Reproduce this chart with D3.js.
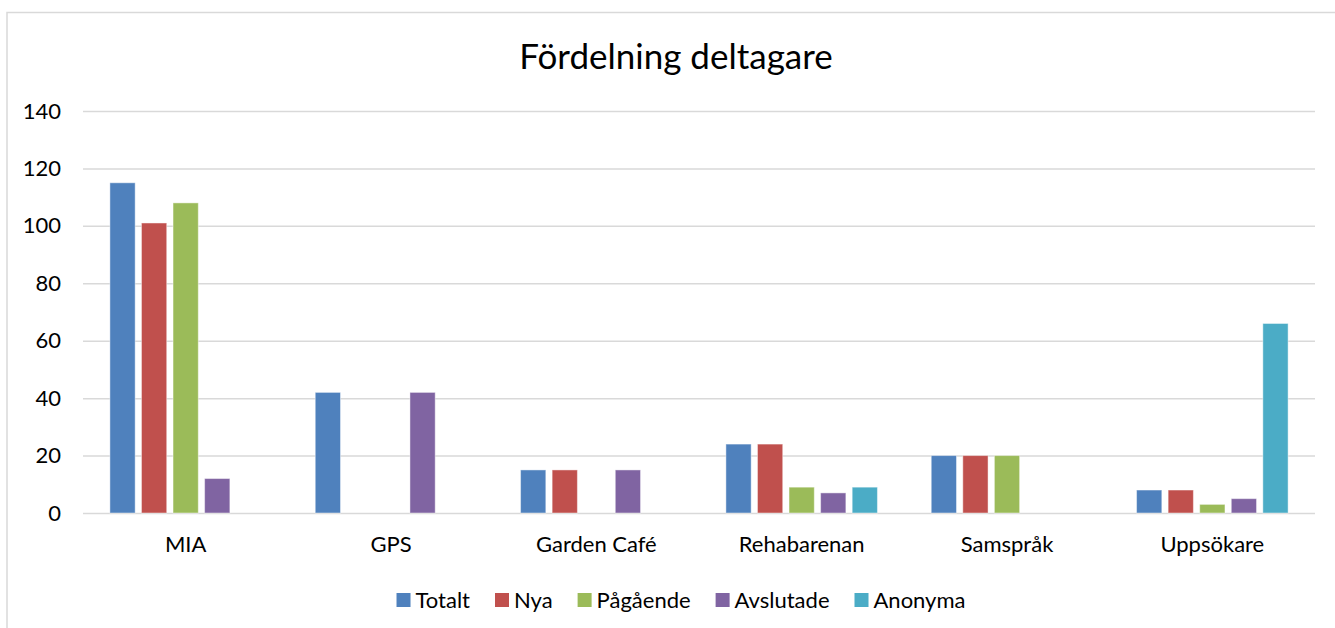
<!DOCTYPE html>
<html>
<head>
<meta charset="utf-8">
<script src="https://cdn.jsdelivr.net/npm/d3@7/dist/d3.min.js"></script>
<style>
  html, body { margin: 0; padding: 0; background: #fff; }
  svg { display: block; }
  text { font-family: Lato, "Noto Sans", sans-serif; fill: #000; }
</style>
</head>
<body>
<svg id="chart" width="1335" height="628"></svg>
<script>
var categories = ['MIA', 'GPS', 'Garden Café', 'Rehabarenan', 'Samspråk', 'Uppsökare'];
var seriesNames = ['Totalt', 'Nya', 'Pågående', 'Avslutade', 'Anonyma'];
var totalt    = [115, 42, 15, 24, 20, 8];
var nya       = [101, 0, 15, 24, 20, 8];
var pagaende  = [108, 0, 0, 9, 20, 3];
var avslutade = [12, 42, 15, 7, 0, 5];
var anonyma   = [0, 0, 0, 9, 0, 66];
var yTicks = [0, 20, 40, 60, 80, 100, 120, 140];
var colors = ['#4F81BD', '#C0504D', '#9BBB59', '#8064A2', '#4BACC6'];

var seriesValues = [totalt, nya, pagaende, avslutade, anonyma];

var svg = d3.select('#chart');
var plot = { left: 83, right: 1315, top: 111, bottom: 513 };

// outer frame (runs past the right and bottom edge like the screenshot)
svg.append('rect')
    .attr('x', 7).attr('y', 12.5)
    .attr('width', 1400).attr('height', 700)
    .attr('fill', 'none')
    .attr('stroke', '#d9d9d9')
    .attr('stroke-width', 1.5);

svg.append('text')
    .attr('x', 676)
    .attr('y', 69)
    .attr('text-anchor', 'middle')
    .style('font-size', '35px')
    .text('Fördelning deltagare');

var x0 = d3.scaleBand().domain(categories).range([plot.left, plot.right]).padding(0);
var bw = x0.bandwidth();
var x1 = d3.scaleBand().domain(seriesNames)
    .range([bw * 0.131, bw * 0.869])
    .paddingInner(0.2).paddingOuter(0);
var y = d3.scaleLinear().domain([0, 140]).range([plot.bottom, plot.top]);

// gridlines
var yAxis = d3.axisLeft(y).tickValues(yTicks)
    .tickSize(-(plot.right - plot.left)).tickPadding(22);
var gy = svg.append('g')
    .attr('transform', 'translate(' + plot.left + ',0)')
    .call(yAxis);
gy.select('.domain').remove();
gy.selectAll('.tick line').attr('stroke', '#d9d9d9').attr('stroke-width', 1.5);
gy.selectAll('.tick text')
    .style('font-size', '22px')
    .style('font-family', 'Lato, sans-serif')
    .attr('fill', '#000');

// bars
var groups = svg.append('g').selectAll('g')
    .data(categories)
    .join('g')
    .attr('transform', function(d) { return 'translate(' + x0(d) + ',0)'; });

groups.selectAll('rect')
    .data(function(d, i) {
        return seriesNames.map(function(s, j) {
            return { series: s, value: seriesValues[j][i], color: colors[j] };
        }).filter(function(e) { return e.value > 0; });
    })
    .join('rect')
    .attr('x', function(d) { return x1(d.series); })
    .attr('width', x1.bandwidth())
    .attr('y', function(d) { return y(d.value); })
    .attr('height', function(d) { return y(0) - y(d.value); })
    .attr('fill', function(d) { return d.color; })
    .attr('stroke', 'rgba(255,255,255,0.45)')
    .attr('stroke-width', 1);

// category labels
var xAxis = d3.axisBottom(x0).tickSize(0).tickPadding(0);
var gx = svg.append('g')
    .attr('transform', 'translate(0,' + plot.bottom + ')')
    .call(xAxis);
gx.select('.domain').remove();
gx.selectAll('.tick text')
    .attr('y', 39)
    .attr('dy', 0)
    .style('font-size', '22px')
    .style('font-family', 'Lato, sans-serif')
    .attr('fill', '#000');

// legend
var legend = svg.append('g');
var items = legend.selectAll('g')
    .data(seriesNames)
    .join('g');
items.append('rect')
    .attr('width', 14).attr('height', 14)
    .attr('y', 593)
    .attr('fill', function(d, i) { return colors[i]; });
items.append('text')
    .attr('x', 19)
    .attr('y', 608)
    .style('font-size', '22px')
    .text(function(d) { return d; });

var offsets = [];
var cursor = 0;
items.each(function() {
    offsets.push(cursor);
    var w = d3.select(this).select('text').node().getComputedTextLength();
    cursor += 19 + w + 25;
});
var totalW = cursor - 25;
var startX = 681 - totalW / 2;
items.attr('transform', function(d, i) { return 'translate(' + (startX + offsets[i]) + ',0)'; });
</script>
</body>
</html>
